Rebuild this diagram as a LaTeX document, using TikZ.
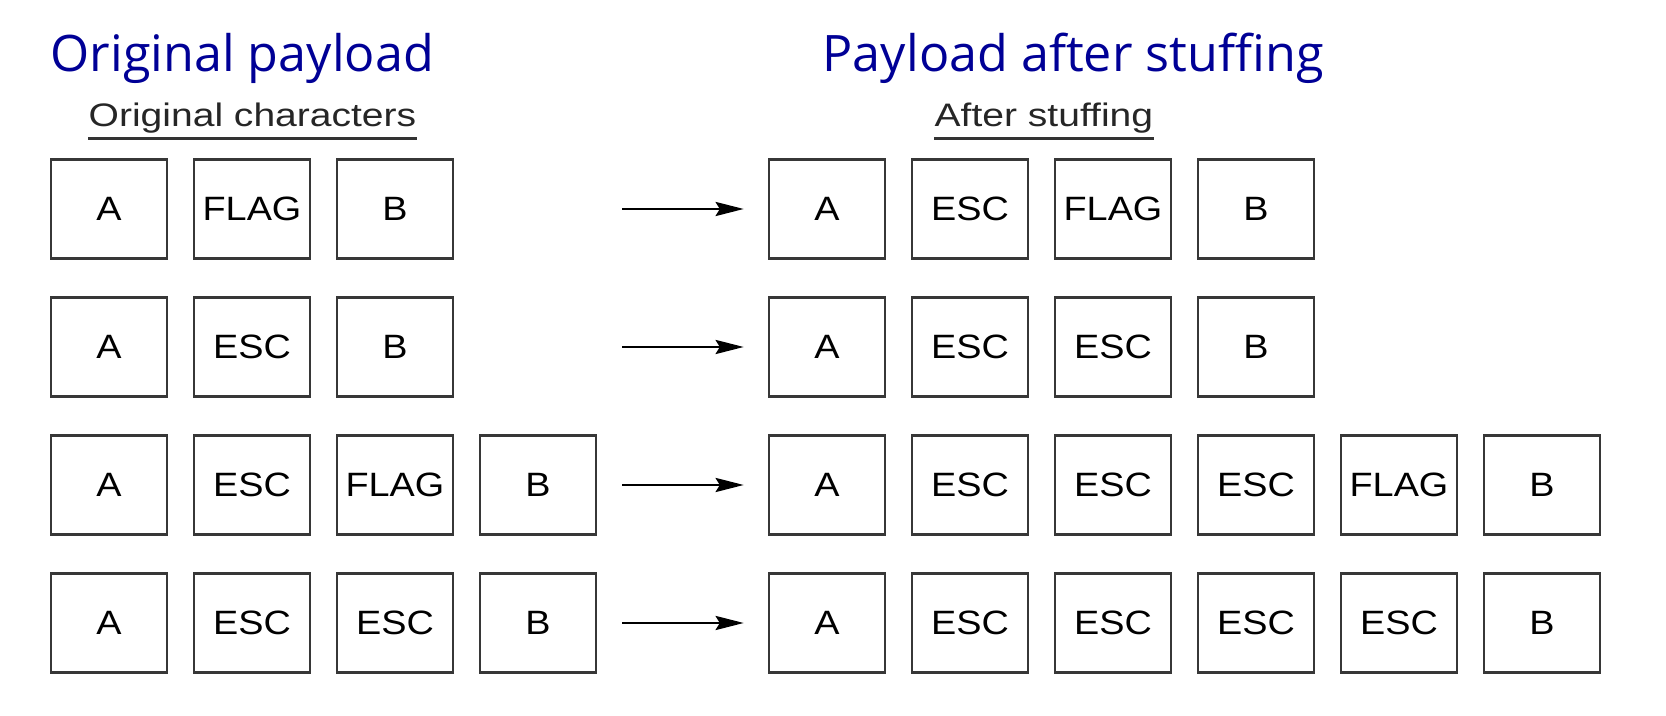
\documentclass[tikz,border=0pt]{standalone}
\usepackage{fontspec}
\newfontfamily\helv{Liberation Sans}
\newfontfamily\comic{Open Sans}
\usetikzlibrary{arrows.meta}
\definecolor{titleblue}{RGB}{0,0,150}
\definecolor{boxgray}{RGB}{55,55,55}
\newcommand{\wide}[2]{\scalebox{#1}[1]{#2}}

\begin{document}
\begin{tikzpicture}
[x=0.01cm,y=-0.01cm,>={Stealth[length=8pt,width=4pt,inset=1.2pt]},
 every node/.style={inner sep=0pt},
 char/.style={draw=boxgray,line width=0.75pt,minimum width=1.16cm,minimum height=0.99cm,font=\helv\fontsize{9.6}{10}\selectfont},
 title/.style={anchor=base west,text=titleblue,font=\comic\fontsize{14.3}{16}\selectfont},
 caption/.style={anchor=base west,text=black!85,font=\helv\fontsize{9.25}{10}\selectfont}]

\useasboundingbox (0,0) rectangle (1666,716);

\node[title] (t1) at (50,72) {Original payload};
\node[title] (t2) at (822,72) {Payload after stuffing};

\node[caption] (c1) at (88,127) {\wide{1.2}{Original characters}};
\node[caption] (c2) at (934,127) {\wide{1.2}{After stuffing}};
\draw[line width=0.7pt,black!80] ([yshift=-1.1pt]c1.south west) -- ([yshift=-1.1pt]c1.south east);
\draw[line width=0.7pt,black!80] ([yshift=-1.1pt]c2.south west) -- ([yshift=-1.1pt]c2.south east);

%original
\foreach \lab [count=\i] in {A,FLAG,B}
\node[char] (o1\i) at ({109+143*(\i-1)},209) {\wide{1.12}{\lab}};
\foreach \lab [count=\i] in {A,ESC,B}
\node[char] (o2\i) at ({109+143*(\i-1)},347) {\wide{1.12}{\lab}};
\foreach \lab [count=\i] in {A,ESC,FLAG,B}
\node[char] (o3\i) at ({109+143*(\i-1)},485) {\wide{1.12}{\lab}};
\foreach \lab [count=\i] in {A,ESC,ESC,B}
\node[char] (o4\i) at ({109+143*(\i-1)},623) {\wide{1.12}{\lab}};

%stuffed
\foreach \lab [count=\i] in {A,ESC,FLAG,B}
\node[char] (s1\i) at ({827+143*(\i-1)},209) {\wide{1.12}{\lab}};
\foreach \lab [count=\i] in {A,ESC,ESC,B}
\node[char] (s2\i) at ({827+143*(\i-1)},347) {\wide{1.12}{\lab}};
\foreach \lab [count=\i] in {A,ESC,ESC,ESC,FLAG,B}
\node[char] (s3\i) at ({827+143*(\i-1)},485) {\wide{1.12}{\lab}};
\foreach \lab [count=\i] in {A,ESC,ESC,ESC,ESC,B}
\node[char] (s4\i) at ({827+143*(\i-1)},623) {\wide{1.12}{\lab}};

\foreach \r/\y in {1/209,2/347,3/485,4/623}
{
\coordinate (in\r) at (622,\y);
\draw[->,line width=0.75pt,shorten >=6.8pt] (in\r) -- (s\r1.west);
}

\end{tikzpicture}
\end{document}
